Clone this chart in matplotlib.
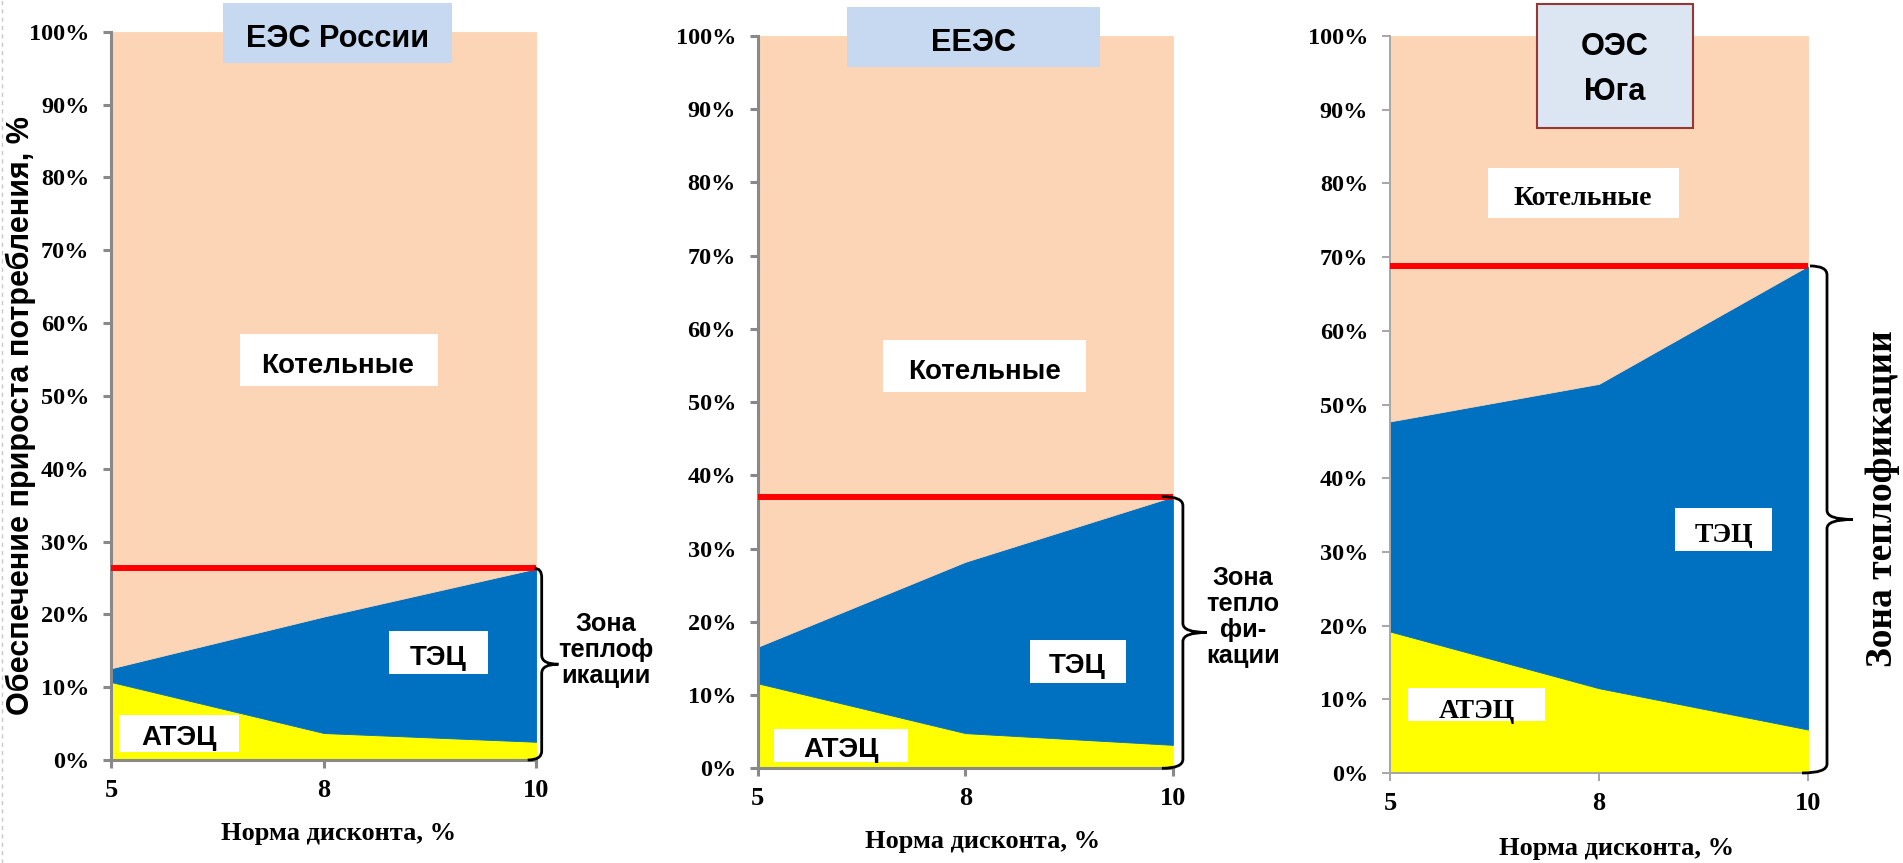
import numpy as np
import matplotlib
matplotlib.use('Agg')
import matplotlib.pyplot as plt
from matplotlib import font_manager
from matplotlib.patches import Rectangle, PathPatch
from matplotlib.path import Path
from matplotlib.transforms import IdentityTransform

W, H = 1903, 863

discount = ['5', '8', '10']

# доли (%) в обеспечении прироста потребления тепла
atec_rus = [10.7, 3.7, 2.5]
tec_rus = [1.9, 16.0, 23.8]

atec_ees = [11.6, 4.8, 3.2]
tec_ees = [5.0, 23.4, 33.9]

atec_south = [19.2, 11.5, 5.9]
tec_south = [28.5, 41.3, 62.9]

PEACH = '#FBD5B5'
BLUE = '#0070C0'
YELLOW = '#FFFF00'
RED = '#FF0000'

names = {f.name for f in font_manager.fontManager.ttflist}
if 'Liberation Sans Narrow' in names:
    NARROW, NK = 'Liberation Sans Narrow', 1.0
else:
    NARROW, NK = 'Liberation Sans', 0.87
SANS = 'Liberation Sans'
SERIF = 'Liberation Serif'

fig = plt.figure(figsize=(W / 100, H / 100), dpi=100)


def fx(px):
    return px / W


def fy(py):
    return 1 - py / H


def rect(x0, y0, x1, y1, fc, ec='none', lw=0):
    fig.add_artist(Rectangle((fx(x0), fy(y1)), fx(x1) - fx(x0), fy(y0) - fy(y1),
                             transform=fig.transFigure, fc=fc, ec=ec, lw=lw))


def label(x, y, s, family, size, va='baseline', **kw):
    fig.text(fx(x), fy(y), s, family=family, fontsize=size, fontweight='bold',
             ha='center', va=va, **kw)


def brace(ax, y_top, dx_line, dx_tip, hook_top, hook_bot, r=9):
    xr = ax.transAxes.transform((1, 0))[0]
    yt = ax.transData.transform((0, y_top))[1]
    yb = ax.transData.transform((0, 0))[1]
    ym = (yt + yb) / 2
    xv, xt = xr + dx_line, xr + dx_tip
    verts = [(xv - hook_top, yt), (xv, yt), (xv, yt - r), (xv, ym + r),
             (xv, ym), (xt, ym), (xv, ym), (xv, ym - r), (xv, yb + r),
             (xv, yb), (xv - hook_bot, yb)]
    codes = [Path.MOVETO, Path.CURVE3, Path.CURVE3, Path.LINETO,
             Path.CURVE3, Path.CURVE3, Path.CURVE3, Path.CURVE3, Path.LINETO,
             Path.CURVE3, Path.CURVE3]
    fig.add_artist(PathPatch(Path(verts, codes), transform=IdentityTransform(),
                             fill=False, ec='black', lw=2.0, capstyle='butt'))


def panel(box, atec, tec, spine_color, spine_w):
    left, top, right, bottom = box
    ax = fig.add_axes([fx(left), fy(bottom), fx(right) - fx(left), fy(top) - fy(bottom)])
    x = np.arange(len(discount))
    a = np.array(atec)
    t = a + np.array(tec)
    ax.fill_between(x, 0, a, color=YELLOW, lw=0.6)
    ax.fill_between(x, a, t, color=BLUE, lw=0.6)
    ax.fill_between(x, t, 100, color=PEACH, lw=0.6)
    ax.hlines(t[-1], 0, 2, color=RED, lw=4.3, zorder=5, clip_on=False)
    ax.set_xlim(0, 2)
    ax.set_ylim(0, 100)
    ax.set_xticks(x, discount)
    ax.set_yticks(range(0, 101, 10))
    ax.yaxis.set_major_formatter(lambda v, p: f'{v:.0f}%')
    for s in ('top', 'right'):
        ax.spines[s].set_visible(False)
    for s in ('left', 'bottom'):
        ax.spines[s].set_color(spine_color)
        ax.spines[s].set_linewidth(spine_w)
    ax.tick_params(axis='y', length=5.8, width=spine_w, color=spine_color, pad=10)
    ax.tick_params(axis='x', length=5.8, width=spine_w, color=spine_color, pad=8)
    for lab in ax.get_yticklabels():
        lab.set_fontfamily(SERIF)
        lab.set_fontweight('bold')
        lab.set_fontsize(17.5)
    for lab in ax.get_xticklabels():
        lab.set_fontfamily(SERIF)
        lab.set_fontweight('bold')
        lab.set_fontsize(19)
    return ax, t[-1]


# ЕЭС России
ax1, z1 = panel((111.4, 31.7, 536.4, 760), atec_rus, tec_rus, '#898989', 2.2)
rect(223, 3, 452, 63, '#C6D9F1')
label(337.5, 46.7, 'ЕЭС России', NARROW, 25.5 * NK)
rect(240, 334, 437.5, 386, 'white')
label(337.5, 372.7, 'Котельные', SANS, 20)
rect(389, 631, 487.5, 674, 'white')
label(438, 665, 'ТЭЦ', SANS, 20)
rect(119, 715, 238.6, 751.7, 'white')
label(178.6, 745, 'АТЭЦ', SANS, 20)
brace(ax1, z1, 5.3, 22, 7, 14)
label(606, 650, 'Зона\nтеплоф\nикации', NARROW, 21 * NK, va='center', linespacing=1.12)
label(338.4, 833, 'Норма дисконта, %', SERIF, 19, va='center')
fig.text(fx(20.5), fy(415.5), 'Обеспечение прироста потребления, %', family=SANS,
         fontsize=22, fontweight='bold', rotation=90, ha='center', va='center')

# ЕЕЭС
ax2, z2 = panel((757.9, 36, 1172.9, 768.3), atec_ees, tec_ees, '#898989', 2.2)
rect(847, 6.7, 1100, 66.7, '#C6D9F1')
label(973.5, 50.7, 'ЕЕЭС', NARROW, 25.5 * NK)
rect(882.9, 340, 1086, 391.7, 'white')
label(984.6, 379, 'Котельные', SANS, 20)
rect(1030, 640, 1125.7, 682.7, 'white')
label(1077, 673.3, 'ТЭЦ', SANS, 20)
rect(774, 729, 908, 761.7, 'white')
label(841, 756.7, 'АТЭЦ', SANS, 20)
brace(ax2, z2, 10, 34, 21, 21)
label(1243, 617, 'Зона\nтепло\nфи-\nкации', NARROW, 21 * NK, va='center', linespacing=1.12)
label(983, 841.7, 'Норма дисконта, %', SERIF, 19, va='center')

# ОЭС Юга
ax3, z3 = panel((1390, 36, 1808, 773), atec_south, tec_south, '#A6A6A6', 1.4)
rect(1537, 4, 1693, 128.5, '#DCE6F2', ec='#953735', lw=1.5)
label(1615, 55, 'ОЭС', NARROW, 25.5 * NK)
label(1615, 100, 'Юга', NARROW, 25.5 * NK)
rect(1488, 168, 1679, 218, 'white')
label(1583, 205, 'Котельные', SERIF, 20)
rect(1675, 508, 1772, 551, 'white')
label(1723.5, 541.7, 'ТЭЦ', SERIF, 20)
rect(1408, 688, 1545, 721, 'white')
label(1477, 717.7, 'АТЭЦ', SERIF, 20)
brace(ax3, z3, 19, 45, 17, 25)
fig.text(fx(1882), fy(499), 'Зона теплофикации', family=SERIF, fontsize=27,
         fontweight='bold', rotation=90, ha='center', va='center')
label(1617, 848.3, 'Норма дисконта, %', SERIF, 19, va='center')

# пунктирная рамка слайда
fig.add_artist(plt.Line2D([fx(1.5), fx(1.5)], [0, 1], transform=fig.transFigure,
                          color='#C8C8C8', lw=1, ls=(0, (3, 3))))

fig.savefig('out.png', dpi=100)
